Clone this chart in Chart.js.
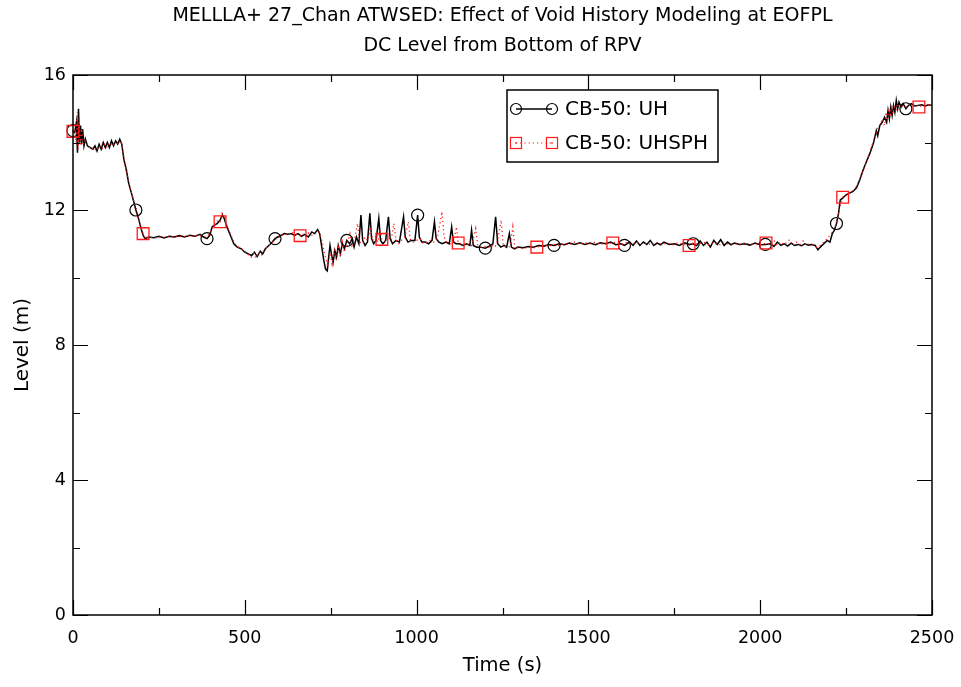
<!DOCTYPE html>
<html>
<head>
<meta charset="utf-8">
<script src="https://cdn.jsdelivr.net/npm/chart.js@4/dist/chart.umd.min.js"></script>
<style>
  html, body { margin: 0; padding: 0; background: #fff; }
  #wrap { width: 961px; height: 687px; }
</style>
</head>
<body>
<div id="wrap"><canvas id="chart" width="961" height="687"></canvas></div>
<script>
// titles and labels
const titleLines = ['MELLLA+ 27_Chan ATWSED: Effect of Void History Modeling at EOFPL', 'DC Level from Bottom of RPV'];
const xTitle = 'Time (s)';
const yTitle = 'Level (m)';
const seriesNames = ['CB-50: UH', 'CB-50: UHSPH'];

// CB-50: UH (black, circles)
const uhTime = [0,5,10,13,16,19,22,25,28,32,36,42,50,58,64,70,76,82,88,94,100,106,112,118,124,130,136,142,148,155,162,170,178,183,192,198,204,210,220,235,250,265,280,295,310,325,340,355,370,380,390,398,405,412,420,428,435,440,448,458,468,478,490,500,510,520,528,536,545,552,560,570,580,588,596,605,615,625,635,645,655,665,675,685,695,703,712,718,724,730,735,740,744,748,752,757,762,767,772,778,784,790,797,805,812,818,825,832,838,843,850,857,864,869,875,882,890,895,902,910,918,923,930,940,950,962,967,975,985,995,1003,1008,1015,1025,1035,1045,1052,1057,1065,1075,1085,1095,1102,1107,1115,1125,1135,1145,1155,1160,1165,1175,1185,1200,1215,1222,1230,1236,1245,1255,1262,1270,1276,1285,1295,1310,1325,1340,1355,1370,1385,1400,1415,1430,1445,1460,1475,1490,1505,1520,1535,1550,1565,1580,1595,1605,1620,1630,1640,1650,1660,1670,1680,1690,1700,1710,1720,1735,1750,1765,1780,1795,1805,1815,1825,1835,1845,1855,1865,1875,1885,1895,1905,1915,1925,1940,1955,1970,1985,2000,2015,2030,2040,2050,2060,2070,2080,2090,2100,2110,2120,2130,2140,2150,2160,2168,2175,2185,2195,2203,2210,2216,2222,2228,2233,2240,2250,2260,2270,2280,2290,2300,2310,2320,2330,2338,2342,2348,2355,2362,2368,2372,2376,2380,2384,2388,2392,2396,2400,2404,2410,2416,2424,2432,2440,2450,2460,2470,2480,2490,2500];
const uhLevel = [14.35,14.3,14.6,13.7,15.0,14.0,14.5,13.95,14.4,13.9,14.1,13.9,13.85,13.8,13.9,13.75,13.95,13.8,14.0,13.85,14.0,13.85,14.05,13.9,14.05,13.95,14.1,13.95,13.5,13.2,12.8,12.5,12.2,12.0,11.7,11.45,11.25,11.15,11.2,11.18,11.22,11.17,11.22,11.2,11.24,11.2,11.25,11.22,11.28,11.2,11.15,11.25,11.5,11.55,11.6,11.7,11.85,11.75,11.5,11.25,11.0,10.9,10.85,10.75,10.7,10.65,10.75,10.62,10.78,10.7,10.85,10.95,11.05,11.15,11.2,11.25,11.3,11.28,11.3,11.25,11.3,11.22,11.28,11.2,11.35,11.3,11.42,11.3,10.9,10.5,10.25,10.2,10.6,10.95,10.7,10.45,10.8,10.6,10.95,10.7,11.0,10.85,11.1,11.0,11.15,10.9,11.2,11.0,11.85,11.1,10.95,11.05,11.9,11.15,11.0,11.1,11.75,11.1,11.0,11.1,11.8,11.15,11.0,11.1,11.05,11.8,11.2,11.05,11.1,11.1,11.85,11.2,11.05,11.05,11.0,11.1,11.65,11.15,11.05,11.0,11.05,11.0,11.5,11.05,11.0,11.0,10.95,11.0,10.95,11.4,10.95,10.9,10.9,10.87,10.95,11.0,11.8,11.0,10.9,10.95,10.9,11.3,10.9,10.85,10.9,10.88,10.92,10.9,10.95,10.93,10.98,10.95,11.0,10.97,11.02,10.98,11.03,10.98,11.02,10.97,11.03,11.0,11.05,10.97,11.0,10.95,11.05,10.95,11.08,10.95,11.05,10.98,11.1,10.95,11.02,10.97,11.05,10.98,11.0,10.95,11.03,10.98,11.0,10.95,11.08,10.95,11.05,10.9,11.1,10.98,11.12,10.95,11.05,10.97,11.02,10.98,11.0,10.96,11.02,10.97,10.98,11.0,10.92,11.05,10.95,11.0,10.93,11.02,10.95,10.98,10.94,11.0,10.96,10.98,10.95,10.82,10.9,11.0,11.1,11.05,11.3,11.4,11.6,11.9,12.3,12.35,12.45,12.5,12.55,12.65,12.9,13.2,13.45,13.7,14.0,14.35,14.2,14.5,14.6,14.75,14.6,14.95,14.7,15.05,14.8,15.1,14.9,15.25,15.0,15.2,15.05,15.15,15.0,15.1,15.15,15.08,15.1,15.12,15.08,15.12,15.1];
const uhMarkTimes = [0,183,390,588,797,1003,1200,1400,1605,1805,2015,2222,2424];

// CB-50: UHSPH (red, squares)
const uhsphTime = [0,5,9,12,15,18,22,26,30,36,44,52,60,68,76,84,92,100,108,116,124,132,140,146,152,160,168,176,184,190,196,204,212,222,236,250,264,278,292,306,320,334,348,362,376,388,398,406,414,422,428,434,440,448,458,468,478,490,500,510,518,526,532,540,548,556,566,576,586,596,606,616,626,636,646,654,661,668,676,686,696,706,716,724,730,736,742,748,754,760,766,772,778,784,790,798,806,812,820,828,834,842,850,858,866,872,880,888,893,899,906,912,918,926,934,940,948,956,966,976,982,990,1000,1010,1020,1030,1040,1050,1060,1068,1074,1080,1088,1098,1108,1116,1121,1132,1142,1152,1160,1172,1178,1188,1198,1208,1218,1228,1236,1246,1252,1262,1272,1280,1286,1296,1310,1325,1340,1350,1358,1370,1385,1400,1415,1430,1445,1460,1475,1490,1505,1520,1535,1550,1571,1580,1595,1610,1625,1640,1655,1670,1685,1700,1715,1730,1745,1760,1775,1793,1805,1820,1835,1850,1865,1880,1895,1910,1925,1940,1955,1970,1985,2000,2017,2030,2040,2050,2060,2070,2085,2095,2105,2115,2125,2135,2145,2155,2165,2175,2185,2195,2203,2210,2218,2225,2232,2240,2245,2255,2265,2275,2285,2295,2305,2315,2325,2335,2342,2350,2356,2362,2366,2370,2374,2378,2382,2386,2390,2395,2400,2408,2416,2426,2436,2446,2456,2462,2472,2482,2492,2500];
const uhsphLevel = [14.33,14.4,14.0,14.9,13.8,14.7,13.9,14.4,13.95,14.05,13.9,13.8,13.85,13.75,13.9,13.8,13.95,13.85,14.0,13.9,14.0,13.95,14.05,13.7,13.3,12.9,12.6,12.3,12.05,11.8,11.55,11.3,11.15,11.2,11.17,11.2,11.19,11.22,11.2,11.23,11.2,11.24,11.22,11.26,11.22,11.2,11.3,11.45,11.6,11.7,11.65,11.9,11.8,11.55,11.3,11.05,10.92,10.85,10.78,10.68,10.6,10.72,10.58,10.75,10.65,10.8,10.92,11.0,11.1,11.18,11.22,11.3,11.25,11.35,11.28,11.3,11.24,11.3,11.2,11.32,11.25,11.3,11.35,11.1,10.8,10.55,10.3,10.75,10.4,10.85,10.5,10.9,10.6,11.05,10.75,11.0,11.3,10.95,11.15,11.6,11.05,11.0,11.2,11.1,11.5,11.1,11.2,11.05,11.45,11.13,11.1,11.05,11.2,11.1,11.6,11.1,11.0,11.1,11.2,11.65,11.1,11.05,11.1,11.15,11.0,11.05,11.1,11.05,11.15,11.6,11.95,11.2,11.05,11.0,11.05,11.5,11.02,11.0,10.95,11.0,10.95,11.45,10.95,10.9,10.92,10.88,10.95,10.9,11.1,11.7,10.95,10.88,10.92,11.5,10.85,10.9,10.85,10.9,10.88,10.9,10.92,10.95,10.93,10.98,10.95,11.0,10.97,11.05,10.98,11.03,11.0,11.05,10.98,11.02,11.02,11.05,10.98,11.03,10.97,11.05,10.98,11.02,10.96,11.04,10.98,11.02,10.97,11.03,10.98,10.95,11.02,10.98,11.05,10.97,11.03,10.96,11.02,10.98,11.0,10.97,11.03,10.98,11.0,10.97,11.02,10.98,11.1,10.95,11.05,10.97,11.12,10.95,11.05,10.98,11.08,10.95,11.0,10.97,10.9,10.95,11.05,11.15,11.25,11.35,11.5,11.75,12.1,12.38,12.4,12.45,12.55,12.6,12.8,13.05,13.3,13.6,13.9,14.2,14.4,14.55,14.7,14.5,14.9,14.65,15.0,14.75,15.1,14.85,15.05,14.95,15.15,15.05,15.1,15.05,15.12,15.08,15.1,15.05,15.1,15.08,15.12,15.1];
const uhsphMarkTimes = [0,204,428,661,899,1121,1350,1571,1793,2017,2240,2462];

// axis limits and tick steps
const xMin = 0, xMax = 2500, xStep = 500, xMinorStep = 250;
const yMin = 0, yMax = 16, yStep = 4, yMinorStep = 2;

const FONT = "'DejaVu Sans', 'Liberation Sans', sans-serif";
const RED = '#ff1a1a';

function toPoints(ts, vs) {
    return ts.map((t, i) => ({ x: t, y: vs[i] }));
}

// frame, inside ticks, two-line title and boxed legend
const decorPlugin = {
    id: 'decor',
    afterDatasetsDraw(chart) {
        const c = chart.ctx;
        const a = chart.chartArea;
        const xs = chart.scales.x, ys = chart.scales.y;
        c.save();
        c.strokeStyle = '#000';
        c.lineWidth = 1.5;
        c.strokeRect(a.left, a.top, a.right - a.left, a.bottom - a.top);
        c.lineWidth = 1.2;
        c.beginPath();
        for (let t = xMin; t <= xMax; t += xMinorStep) {
            const px = Math.round(xs.getPixelForValue(t)) + 0.5;
            const len = t % xStep === 0 ? 15 : 7;
            c.moveTo(px, a.bottom); c.lineTo(px, a.bottom - len);
            c.moveTo(px, a.top); c.lineTo(px, a.top + len);
        }
        for (let v = yMin; v <= yMax; v += yMinorStep) {
            const py = Math.round(ys.getPixelForValue(v)) + 0.5;
            const len = v % yStep === 0 ? 15 : 7;
            c.moveTo(a.left, py); c.lineTo(a.left + len, py);
            c.moveTo(a.right, py); c.lineTo(a.right - len, py);
        }
        c.stroke();

        // title
        const cx = (a.left + a.right) / 2;
        c.fillStyle = '#000';
        c.textAlign = 'center';
        c.textBaseline = 'middle';
        c.font = '19px ' + FONT;
        c.fillText(titleLines[0], cx, 16);
        c.fillText(titleLines[1], cx, 46);

        // legend box
        const bx = 507, by = 90, bw = 211, bh = 72;
        c.fillStyle = '#fff';
        c.fillRect(bx, by, bw, bh);
        c.lineWidth = 1.5;
        c.strokeStyle = '#000';
        c.strokeRect(bx, by, bw, bh);

        const x1 = 516, x2 = 552;
        // row 1
        let y = 109;
        c.lineWidth = 1.4;
        c.beginPath(); c.moveTo(x1, y); c.lineTo(x2, y); c.stroke();
        c.lineWidth = 1.2;
        [x1, x2].forEach(px => { c.beginPath(); c.arc(px, y, 5.5, 0, Math.PI * 2); c.stroke(); });
        // row 2
        y = 143;
        c.strokeStyle = RED;
        c.setLineDash([1.2, 3]);
        c.beginPath(); c.moveTo(x1, y); c.lineTo(x2, y); c.stroke();
        c.setLineDash([]);
        [x1, x2].forEach(px => { c.strokeRect(px - 5.5, y - 5.5, 11, 11); });
        c.fillStyle = RED;
        [x1, x2].forEach(px => { c.fillRect(px - 0.75, y - 0.75, 1.5, 1.5); });

        c.fillStyle = '#000';
        c.textAlign = 'left';
        c.font = '20px ' + FONT;
        c.fillText(seriesNames[0], 565, 110);
        c.fillText(seriesNames[1], 565, 144);
        c.restore();
    }
};

const ctx = document.getElementById('chart').getContext('2d');
new Chart(ctx, {
    type: 'line',
    data: {
        datasets: [
            {
                label: seriesNames[1],
                data: toPoints(uhsphTime, uhsphLevel),
                borderColor: RED,
                borderWidth: 1.3,
                borderDash: [1.2, 3],
                pointStyle: 'rect',
                pointRadius: c => uhsphMarkTimes.includes(uhsphTime[c.dataIndex]) ? 8.3 : 0,
                pointBorderColor: RED,
                pointBackgroundColor: 'rgba(0,0,0,0)',
                pointBorderWidth: 1.3,
                tension: 0,
                clip: false
            },
            {
                label: seriesNames[0],
                data: toPoints(uhTime, uhLevel),
                borderColor: '#000',
                borderWidth: 1.5,
                pointStyle: 'circle',
                pointRadius: c => uhMarkTimes.includes(uhTime[c.dataIndex]) ? 6 : 0,
                pointBorderColor: '#000',
                pointBackgroundColor: 'rgba(0,0,0,0)',
                pointBorderWidth: 1.2,
                tension: 0,
                clip: false
            }
        ]
    },
    options: {
        responsive: false,
        animation: false,
        events: [],
        layout: { padding: { top: 75, right: 29, left: 0, bottom: 0 } },
        scales: {
            x: {
                type: 'linear',
                min: xMin, max: xMax,
                grid: { display: false, drawTicks: false },
                border: { display: false },
                ticks: { stepSize: xStep, color: '#000', padding: 13, maxRotation: 0, font: { family: FONT, size: 17.5 }, callback: v => String(v) },
                title: { display: true, text: xTitle, color: '#000', padding: { top: 0, bottom: 9 }, font: { family: FONT, size: 19.5 } },
                afterFit: s => { s.height = 72; s.paddingLeft = 0; s.paddingRight = 0; }
            },
            y: {
                type: 'linear',
                min: yMin, max: yMax,
                grid: { display: false, drawTicks: false },
                border: { display: false },
                ticks: { stepSize: yStep, color: '#000', padding: 7, font: { family: FONT, size: 17.5 }, callback: v => String(v) },
                title: { display: true, text: yTitle, color: '#000', padding: { top: 11, bottom: 0 }, font: { family: FONT, size: 20 } },
                afterFit: s => { s.width = 73; s.paddingTop = 0; s.paddingBottom = 0; }
            }
        },
        plugins: {
            legend: { display: false },
            tooltip: { enabled: false },
            title: { display: false }
        }
    },
    plugins: [decorPlugin]
});
</script>
</body>
</html>
